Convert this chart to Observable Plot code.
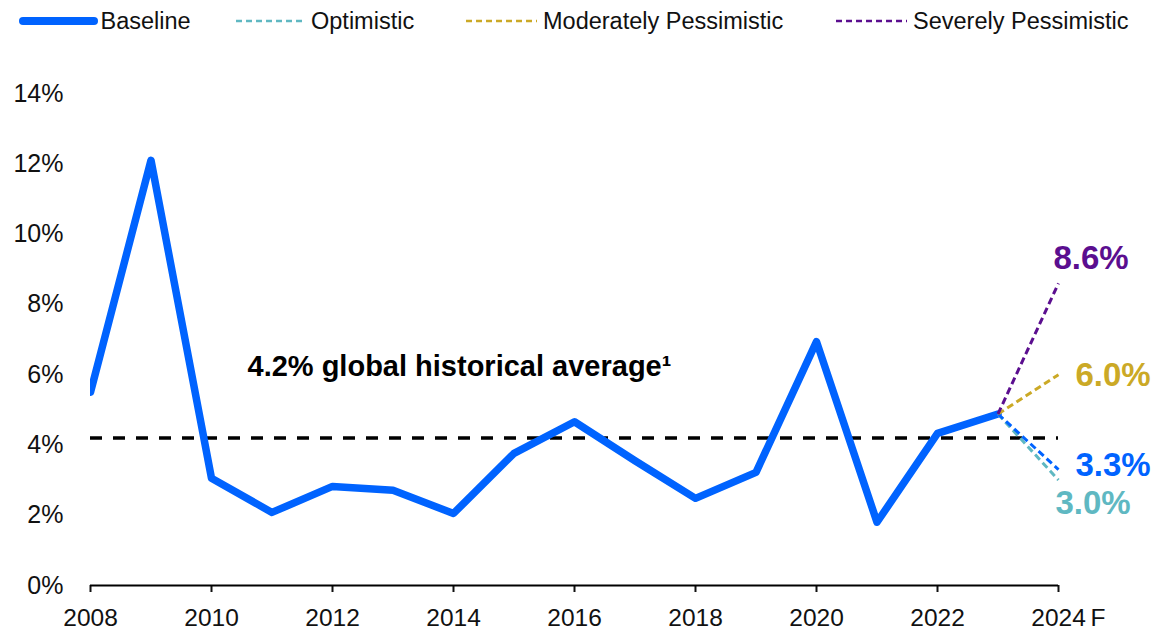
<!DOCTYPE html>
<html><head><meta charset="utf-8">
<script src="https://cdn.jsdelivr.net/npm/d3@7"></script>
<script src="https://cdn.jsdelivr.net/npm/@observablehq/plot@0.6"></script>
<style>
body{margin:0;background:#fff;font-family:"Liberation Sans",Arial,sans-serif;}
#wrap{position:relative;width:1157px;height:630px;overflow:hidden;}
#legend{position:absolute;left:0;top:0;width:1157px;height:42px;}
.item{position:absolute;top:0;height:42px;display:flex;align-items:center;font-size:23.5px;color:#111;white-space:nowrap;}
.item svg{display:block;}
#chart{position:absolute;left:0;top:40px;}
</style></head><body>
<div id="wrap"><div id="legend"></div><div id="chart"></div></div>
<script>
// ---- data ----
const years = [2008,2009,2010,2011,2012,2013,2014,2015,2016,2017,2018,2019,2020,2021,2022,2023];
const baseline = [5.5,12.1,3.05,2.08,2.82,2.71,2.05,3.76,4.66,3.55,2.48,3.22,6.94,1.8,4.33,4.88];
const scenarios = ["Baseline","Optimistic","Moderately Pessimistic","Severely Pessimistic"];
const forecastYear = 2024;
const forecast2024 = [3.3,3.0,6.0,8.6];
const forecastLabels = ["3.3%","3.0%","6.0%","8.6%"];
const historicalAverage = 4.2;
const averageLabel = "4.2% global historical average\u00B9";
const yTicks = [0,2,4,6,8,10,12,14];
const xTicks = [2008,2010,2012,2014,2016,2018,2020,2022,2024];
const forecastSuffix = "F";

// ---- styles ----
const colors = {"Baseline":"#0063FF","Optimistic":"#5FB8C2","Moderately Pessimistic":"#CBA926","Severely Pessimistic":"#5B0E8F"};
const legendPos = [
  {name:"Baseline", sx:18, sw:81, tx:100.5, solid:true},
  {name:"Optimistic", sx:236, sw:70, tx:311},
  {name:"Moderately Pessimistic", sx:466, sw:71, tx:543},
  {name:"Severely Pessimistic", sx:836, sw:71, tx:913}
];
const labelOffsets = {
  "Baseline":{dx:17, dy:-4},
  "Optimistic":{dx:-3, dy:23},
  "Moderately Pessimistic":{dx:17, dy:1},
  "Severely Pessimistic":{dx:-5, dy:-25}
};

// ---- legend ----
const legend = document.getElementById("legend");
legendPos.forEach(l => {
  const sw = document.createElement("div");
  sw.className = "item"; sw.style.left = l.sx + "px";
  const c = colors[l.name];
  sw.innerHTML = l.solid
    ? `<svg width="${l.sw}" height="12"><line x1="5" x2="${l.sw-5}" y1="6" y2="6" stroke="${c}" stroke-width="8" stroke-linecap="round"/></svg>`
    : `<svg width="${l.sw}" height="12"><line x1="0" x2="${l.sw}" y1="6" y2="6" stroke="${c}" stroke-width="2.5" stroke-dasharray="6,4"/></svg>`;
  legend.appendChild(sw);
  const t = document.createElement("div");
  t.className = "item"; t.style.left = l.tx + "px"; t.textContent = l.name;
  legend.appendChild(t);
});

// ---- tables ----
const hist = years.map((y,i)=>({year:y, value:baseline[i]}));
const lastYear = years[years.length-1], lastValue = baseline[baseline.length-1];
const fc = scenarios.map((s,i)=>[{scenario:s, year:lastYear, value:lastValue},{scenario:s, year:forecastYear, value:forecast2024[i]}]);
const drawOrder = ["Optimistic","Baseline","Moderately Pessimistic","Severely Pessimistic"];

const marks = [
  Plot.axisY({ticks:yTicks, tickSize:0, tickPadding:27, tickFormat:d=>d+"%", fontSize:25, label:null}),
  Plot.axisX({ticks:xTicks, tickSize:7, tickPadding:16, tickFormat:d=>String(d), fontSize:24.5, label:null, strokeWidth:2}),
  Plot.ruleY([0], {stroke:"#000", strokeWidth:2}),
  Plot.ruleY([historicalAverage], {stroke:"#000", strokeWidth:3.5, strokeDasharray:"12,11"}),
  Plot.line(hist, {x:"year", y:"value", stroke:colors["Baseline"], strokeWidth:7.5, strokeLinejoin:"round", strokeLinecap:"round", clip:true})
];
drawOrder.forEach(s => {
  const i = scenarios.indexOf(s);
  marks.push(Plot.line(fc[i], {x:"year", y:"value", stroke:colors[s], strokeWidth:3, strokeDasharray:"7,4", strokeLinecap:"butt"}));
});
scenarios.forEach((s,i) => {
  marks.push(Plot.text([{year:forecastYear, value:forecast2024[i], label:forecastLabels[i]}], {
    x:"year", y:"value", text:"label", fill:colors[s], fontSize:33, fontWeight:"bold",
    textAnchor:"start", lineAnchor:"middle", dx:labelOffsets[s].dx, dy:labelOffsets[s].dy
  }));
});
marks.push(Plot.text([{value:historicalAverage, label:averageLabel}], {
  y:"value", text:"label", frameAnchor:"left", dx:157, dy:-71, textAnchor:"start", lineAnchor:"middle",
  fontSize:29, fontWeight:"bold", fill:"#000"
}));
marks.push(Plot.text([{year:forecastYear, value:0, label:forecastSuffix}], {
  x:"year", y:"value", text:"label", dx:32, dy:23, textAnchor:"start", lineAnchor:"top", fontSize:24.5, fill:"#111"
}));

const chart = Plot.plot({
  width:1157, height:590,
  marginLeft:90, marginRight:99, marginTop:53, marginBottom:45,
  style:{fontFamily:"'Liberation Sans', Arial, sans-serif", fontSize:"25px", color:"#111", background:"transparent", overflow:"visible"},
  x:{domain:[2008,2024]},
  y:{domain:[0,14]},
  marks
});
document.getElementById("chart").appendChild(chart);
</script>
</body></html>
